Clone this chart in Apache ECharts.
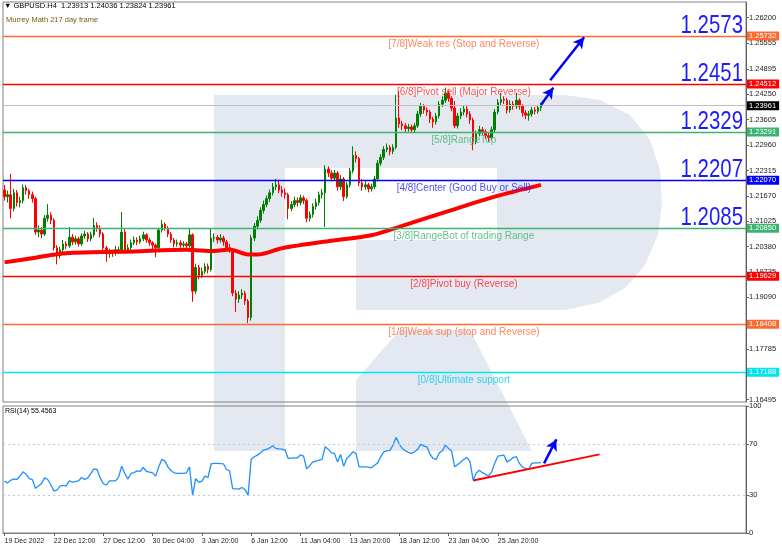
<!DOCTYPE html>
<html><head><meta charset="utf-8">
<script src="https://cdn.jsdelivr.net/npm/echarts@6/dist/echarts.min.js"></script>
<style>html,body{margin:0;padding:0;background:#fff}#c{width:782px;height:549px}</style>
</head><body><div id="c"></div>
<script>
// ---------- data ----------
const opens = [
1.2182,1.2165,1.2170,1.2135,1.2175,1.2150,1.2155,1.2188,1.2180,1.2170,
1.2160,1.2075,1.2080,1.2070,1.2110,1.2118,1.2105,1.2035,1.2015,1.2030,
1.2045,1.2040,1.2062,1.2050,1.2058,1.2045,1.2065,1.2070,1.2058,1.2068,
1.2092,1.2085,1.2070,1.2035,1.2020,1.2025,1.2022,1.2030,1.2030,1.2075,
1.2030,1.2035,1.2048,1.2055,1.2050,1.2058,1.2068,1.2055,1.2048,1.2042,
1.2035,1.2080,1.2095,1.2085,1.2070,1.2055,1.2045,1.2048,1.2042,1.2045,
1.2040,1.2068,1.1925,1.1985,1.1965,1.1975,1.1988,1.1980,1.2060,1.2062,
1.2055,1.2060,1.2050,1.2035,1.2030,1.1920,1.1905,1.1915,1.1920,1.1900,
1.1858,1.2060,1.2090,1.2105,1.2130,1.2145,1.2160,1.2175,1.2190,1.2195,
1.2182,1.2175,1.2170,1.2135,1.2145,1.2155,1.2150,1.2162,1.2155,1.2110,
1.2120,1.2140,1.2150,1.2170,1.2175,1.2235,1.2225,1.2212,1.2225,1.2190,
1.2210,1.2165,1.2195,1.2230,1.2270,1.2262,1.2200,1.2190,1.2195,1.2185,
1.2190,1.2210,1.2250,1.2265,1.2285,1.2290,1.2280,1.2290,1.2365,1.2350,
1.2345,1.2338,1.2342,1.2335,1.2345,1.2375,1.2395,1.2385,1.2380,1.2362,
1.2355,1.2370,1.2400,1.2410,1.2428,1.2415,1.2390,1.2345,1.2370,1.2380,
1.2388,1.2375,1.2360,1.2305,1.2325,1.2335,1.2330,1.2320,1.2315,1.2335,
1.2380,1.2405,1.2412,1.2410,1.2385,1.2400,1.2395,1.2410,1.2395,1.2378,
1.2372,1.2375,1.2385,1.2382,1.23913];
const closes = [
1.2165,1.2170,1.2135,1.2175,1.2150,1.2155,1.2188,1.2180,1.2170,1.2160,
1.2075,1.2080,1.2070,1.2110,1.2118,1.2105,1.2035,1.2015,1.2030,1.2045,
1.2040,1.2062,1.2050,1.2058,1.2045,1.2065,1.2070,1.2058,1.2068,1.2092,
1.2085,1.2070,1.2035,1.2020,1.2025,1.2022,1.2030,1.2030,1.2075,1.2030,
1.2035,1.2048,1.2055,1.2050,1.2058,1.2068,1.2055,1.2048,1.2042,1.2035,
1.2080,1.2095,1.2085,1.2070,1.2055,1.2045,1.2048,1.2042,1.2045,1.2040,
1.2068,1.1925,1.1985,1.1965,1.1975,1.1988,1.1980,1.2060,1.2062,1.2055,
1.2060,1.2050,1.2035,1.2030,1.1920,1.1905,1.1915,1.1920,1.1900,1.1858,
1.2060,1.2090,1.2105,1.2130,1.2145,1.2160,1.2175,1.2190,1.2195,1.2182,
1.2175,1.2170,1.2135,1.2145,1.2155,1.2150,1.2162,1.2155,1.2110,1.2120,
1.2140,1.2150,1.2170,1.2175,1.2235,1.2225,1.2212,1.2225,1.2190,1.2210,
1.2165,1.2195,1.2230,1.2270,1.2262,1.2200,1.2190,1.2195,1.2185,1.2190,
1.2210,1.2250,1.2265,1.2285,1.2290,1.2280,1.2290,1.2365,1.2350,1.2345,
1.2338,1.2342,1.2335,1.2345,1.2375,1.2395,1.2385,1.2380,1.2362,1.2355,
1.2370,1.2400,1.2410,1.2428,1.2415,1.2390,1.2345,1.2370,1.2380,1.2388,
1.2375,1.2360,1.2305,1.2325,1.2335,1.2330,1.2320,1.2315,1.2335,1.2380,
1.2405,1.2412,1.2410,1.2385,1.2400,1.2395,1.2410,1.2395,1.2378,1.2372,
1.2375,1.2385,1.2382,1.2391,1.23961];
const highs = [
1.2195,1.2180,1.2223,1.2185,1.2182,1.2165,1.2196,1.2195,1.2185,1.2178,
1.2165,1.2092,1.2088,1.2118,1.2146,1.2125,1.2110,1.2042,1.2038,1.2055,
1.2052,1.2088,1.2070,1.2066,1.2063,1.2072,1.2078,1.2075,1.2076,1.2111,
1.2100,1.2092,1.2075,1.2040,1.2033,1.2030,1.2040,1.2038,1.2126,1.2083,
1.2044,1.2056,1.2064,1.2062,1.2066,1.2076,1.2072,1.2060,1.2052,1.2046,
1.2086,1.2106,1.2100,1.2090,1.2075,1.2060,1.2056,1.2054,1.2052,1.2050,
1.2085,1.2072,1.1995,1.1992,1.1985,1.1996,1.1995,1.2085,1.2072,1.2068,
1.2070,1.2066,1.2055,1.2045,1.2034,1.1928,1.1925,1.1930,1.1926,1.1905,
1.2068,1.2098,1.2115,1.2138,1.2155,1.2168,1.2183,1.2200,1.2210,1.2205,
1.2192,1.2186,1.2175,1.2153,1.2165,1.2163,1.2170,1.2168,1.2160,1.2128,
1.2148,1.2160,1.2178,1.2185,1.2245,1.2242,1.2232,1.2233,1.2230,1.2220,
1.2215,1.2203,1.2238,1.2293,1.2280,1.2266,1.2210,1.2204,1.2200,1.2198,
1.2218,1.2258,1.2273,1.2293,1.2300,1.2296,1.2298,1.2424,1.2434,1.2358,
1.2352,1.2350,1.2348,1.2353,1.2383,1.2403,1.2400,1.2392,1.2386,1.2368,
1.2378,1.2408,1.2420,1.2442,1.2435,1.2420,1.2408,1.2378,1.2390,1.2396,
1.2395,1.2382,1.2366,1.2333,1.2345,1.2342,1.2336,1.2328,1.2343,1.2388,
1.2413,1.2429,1.2420,1.2416,1.2410,1.2408,1.2429,1.2415,1.2400,1.2385,
1.2383,1.2393,1.2392,1.2398,1.24036];
const lows = [
1.2155,1.2150,1.2110,1.2128,1.2140,1.2138,1.2148,1.2170,1.2160,1.2150,
1.2068,1.2062,1.2060,1.2065,1.2102,1.2095,1.2028,1.1993,1.2008,1.2022,
1.2032,1.2035,1.2042,1.2043,1.2038,1.2040,1.2058,1.2050,1.2052,1.2062,
1.2076,1.2062,1.2028,1.2000,1.2010,1.2012,1.2015,1.2020,1.2025,1.2022,
1.2024,1.2030,1.2042,1.2042,1.2045,1.2052,1.2048,1.2040,1.2030,1.2011,
1.2030,1.2074,1.2078,1.2062,1.2048,1.2036,1.2038,1.2035,1.2036,1.2032,
1.2035,1.1898,1.1918,1.1955,1.1958,1.1968,1.1970,1.1975,1.2050,1.2046,
1.2048,1.2040,1.2028,1.2022,1.1912,1.1872,1.1895,1.1905,1.1890,1.1844,
1.1850,1.2052,1.2082,1.2098,1.2122,1.2138,1.2152,1.2168,1.2182,1.2174,
1.2165,1.2160,1.2108,1.2128,1.2138,1.2140,1.2143,1.2146,1.2100,1.2102,
1.2112,1.2132,1.2143,1.2160,1.2088,1.2215,1.2204,1.2205,1.2180,1.2182,
1.2154,1.2160,1.2188,1.2224,1.2252,1.2192,1.2180,1.2182,1.2176,1.2178,
1.2184,1.2204,1.2243,1.2258,1.2278,1.2270,1.2273,1.2285,1.2340,1.2334,
1.2328,1.2330,1.2326,1.2328,1.2340,1.2368,1.2376,1.2370,1.2352,1.2340,
1.2348,1.2364,1.2393,1.2403,1.2406,1.2382,1.2339,1.2338,1.2362,1.2372,
1.2366,1.2350,1.2283,1.2298,1.2318,1.2322,1.2312,1.2305,1.2310,1.2328,
1.2374,1.2398,1.2400,1.2376,1.2378,1.2386,1.2388,1.2386,1.2368,1.2362,
1.2358,1.2368,1.2374,1.2376,1.23824];
const rsiValues = [
40.8,39.5,41.5,42.6,42.1,45.0,48.2,46.3,42.9,42.1,
35.3,37.0,39.0,43.4,42.1,38.0,33.2,33.7,36.9,37.5,
37.1,41.1,40.0,40.5,41.1,43.7,42.1,43.4,47.0,50.5,
50.0,43.4,39.0,37.6,41.1,41.0,41.1,44.0,52.6,46.9,
42.4,46.9,47.5,48.9,48.6,51.6,48.6,48.0,47.4,44.8,
52.0,57.9,56.8,52.1,49.0,47.4,46.9,46.9,47.0,47.4,
52.1,29.8,42.9,39.8,40.8,44.8,43.7,54.5,54.8,54.8,
54.7,54.5,50.0,48.9,35.0,34.8,34.5,35.8,34.2,29.8,
58.0,60.0,61.3,63.0,65.3,65.8,67.0,68.7,66.6,66.3,
66.1,65.3,58.7,59.0,59.2,59.2,61.6,60.5,50.5,53.0,
56.0,56.5,57.4,57.9,67.9,66.0,63.1,62.7,56.0,61.9,
52.6,58.7,61.0,63.9,62.7,52.1,52.1,52.1,51.8,51.3,
53.4,55.0,60.0,63.9,64.7,65.0,69.2,75.3,70.0,66.6,
64.7,63.5,62.7,64.0,66.0,69.8,68.5,67.9,62.0,58.7,
57.9,63.1,64.7,69.2,66.6,64.7,52.1,54.0,56.0,58.0,
59.5,56.0,41.6,47.0,49.5,47.5,46.3,44.8,48.2,55.0,
60.5,61.0,61.3,56.0,57.4,59.5,60.0,54.8,52.0,50.8,
50.0,54.8,55.2,55.2,55.4563];
// Murrey MA reading points [bar index, price]
const maPoints = [[0,1.1998],[10,1.2010],[20,1.2021],[42,1.2026],[59,1.2030],[68,1.2027],[73,1.2031],
  [79,1.2018],[82,1.2018],[90,1.2034],[106,1.2053],[119,1.2067],[129,1.2091],[145,1.2131],[159,1.2165],[174,1.2195]];
const slotCount = 241;
const tickIndex = [0,16,32,48,64,80,96,112,128,144,160];
const tickText = ['19 Dec 2022','22 Dec 12:00','27 Dec 12:00','30 Dec 04:00','3 Jan 20:00','6 Jan 12:00',
  '11 Jan 04:00','13 Jan 20:00','18 Jan 12:00','23 Jan 04:00','25 Jan 20:00'];
const priceTicks = [1.26200,1.25555,1.24895,1.24250,1.23605,1.22960,1.22315,1.21670,1.21025,1.20380,
  1.19735,1.19090,1.18445,1.17785,1.17140,1.16495];
const rsiTicks = [0,30,70,100];
const levels = [1.25732,1.24512,1.23291,1.22070,1.20850,1.19629,1.18408,1.17188];
const levelNames = ['[7/8]Weak res (Stop and Reverse)','[6/8]Pivot sell (Major Reverse)','[5/8]RangeTop',
  '[4/8]Center (Good Buy or Sell)','[3/8]RangeBot of trading Range','[2/8]Pivot buy (Reverse)',
  '[1/8]Weak sup (stop and Reverse)','[0/8]Ultimate support'];
const bigLevelText = ['1.2573','1.2451','1.2329','1.2207','1.2085'];
const lastPrice = 1.23961;
const rsiLast = 55.4563;
const priceArrows = [[[174,1.2398],[178,1.2442]],[[177,1.2461],[188,1.2570]]];
const rsiTrend = [[152,41.4],[193,61.9]];
const rsiArrow = [[175,54.8],[179,73.7]];

// ---------- styles ----------
const levelColors = ['#ff6a33','#ff0000','#3cb371','#0000ff','#3cb371','#ff0000','#ff6a33','#00e5ee'];
const levelTextColors = ['#ff6a33','#ff2020','#3cb371','#2020ff','#3cb371','#ff2020','#ff6a33','#00c8e8'];
const FONT = "'Liberation Sans', Arial, sans-serif";
const WM = '#e4e9f1';

const categories = Array.from({length: slotCount}, (_, i) => String(i));
const candleData = opens.map((o, i) => [o, closes[i], lows[i], highs[i]]);
const showTick = (idx) => tickIndex.indexOf(idx) >= 0;

const chart = echarts.init(document.getElementById('c'), null, {renderer: 'canvas'});

const tagLines = levels.map((lv, k) => ({
  yAxis: lv,
  lineStyle: {color: levelColors[k], width: 1.4, type: 'solid'},
  label: {show: true, position: 'end', distance: 1, formatter: lv.toFixed(5), backgroundColor: levelColors[k],
    color: '#fff', fontSize: 7.5, fontFamily: FONT, padding: [1, 3, 0, 2]}
}));
tagLines.unshift({
  yAxis: lastPrice,
  lineStyle: {color: '#c0c0c0', width: 1, type: 'solid'},
  label: {show: true, position: 'end', distance: 1, formatter: lastPrice.toFixed(5), backgroundColor: '#000',
    color: '#fff', fontSize: 7.5, fontFamily: FONT, padding: [1, 3, 0, 2]}
});

const arrowLines = priceArrows.map(a => [
  {coord: a[0], symbol: 'none'},
  {coord: a[1], symbol: 'arrow'}
]);

const baseGraphic = [
  {id: 'wm1', type: 'rect', z: -10, silent: true, shape: {x: 214, y: 95, width: 71, height: 356}, style: {fill: WM}},
  {id: 'wm2', type: 'polygon', z: -10, silent: true, shape: {points: [[285,95],[565,95],[600,100],[630,115],[650,140],[660,170],[662,203],
    [658,235],[645,265],[625,288],[598,303],[565,310],[356,310],[356,240],[497,240],[497,168],[285,168]]}, style: {fill: WM}},
  {id: 'wm3', type: 'polygon', z: -10, silent: true, shape: {points: [[400,330],[470,330],[532,451],[356,451],[356,380]]}, style: {fill: WM}},
  {id: 'h1', type: 'text', left: 4, top: 2, z: 10, style: {text: '\u25BC GBPUSD.H4  1.23913 1.24036 1.23824 1.23961', fontSize: 7.5, fill: '#000', fontFamily: FONT}},
  {id: 'h2', type: 'text', left: 6, top: 16, z: 10, style: {text: 'Murrey Math 217 day frame', fontSize: 7.5, fill: '#7a5a10', fontFamily: FONT}},
  {id: 'h3', type: 'text', left: 5, top: 408, z: 10, style: {text: 'RSI(14) ' + rsiLast.toFixed(4), fontSize: 7, fill: '#000', fontFamily: FONT}}
];

const option = {
  animation: false,
  backgroundColor: '#fff',
  textStyle: {fontFamily: FONT},
  grid: [
    {left: 3, right: 36, top: 2, height: 400, show: true, borderColor: '#808080', borderWidth: 1},
    {left: 3, right: 36, top: 406, height: 127, show: true, borderColor: '#808080', borderWidth: 1}
  ],
  xAxis: [
    {type: 'category', gridIndex: 0, data: categories, boundaryGap: true,
     axisLine: {show: false}, axisTick: {show: false}, axisLabel: {show: false}, splitLine: {show: false}},
    {type: 'category', gridIndex: 1, data: categories, boundaryGap: true,
     axisLine: {show: true, lineStyle: {color: '#808080'}},
     axisTick: {show: true, interval: (i) => showTick(i), alignWithLabel: true, length: 3, lineStyle: {color: '#606060'}},
     axisLabel: {show: true, interval: (i) => showTick(i), formatter: (v, i) => tickText[tickIndex.indexOf(Number(v))] || '',
       align: 'left', fontSize: 7, color: '#222', margin: 5, fontFamily: FONT},
     splitLine: {show: false}}
  ],
  yAxis: [
    {type: 'value', gridIndex: 0, position: 'right', min: 1.164332, max: 1.265958, scale: true,
     splitLine: {show: false},
     axisLine: {show: true, lineStyle: {color: '#606060'}},
     axisTick: {show: true, customValues: priceTicks, length: 3, lineStyle: {color: '#606060'}},
     axisLabel: {show: true, customValues: priceTicks, formatter: (v) => v.toFixed(5), fontSize: 7.5, color: '#222', margin: 3, fontFamily: FONT}},
    {type: 'value', gridIndex: 1, position: 'right', min: 0, max: 100,
     splitLine: {show: false},
     axisLine: {show: true, lineStyle: {color: '#606060'}},
     axisTick: {show: true, customValues: rsiTicks, length: 3, lineStyle: {color: '#606060'}},
     axisLabel: {show: true, customValues: rsiTicks, fontSize: 7.5, color: '#222', margin: 3, fontFamily: FONT}}
  ],
  graphic: baseGraphic,
  series: [
    {name: 'levels', type: 'line', xAxisIndex: 0, yAxisIndex: 0, data: [], z: 1,
     markLine: {silent: true, symbol: 'none', animation: false, precision: 6, data: tagLines}},
    {name: 'price', type: 'candlestick', xAxisIndex: 0, yAxisIndex: 0, data: candleData, barWidth: 2, z: 2,
     itemStyle: {color: '#008000', color0: '#ff0000', borderColor: '#008000', borderColor0: '#ff0000', borderWidth: 1}},
    {name: 'ma', type: 'line', xAxisIndex: 0, yAxisIndex: 0, data: maPoints, showSymbol: false, smooth: 0.3,
     lineStyle: {color: '#ff0000', width: 4}, z: 3},
    {name: 'arrows', type: 'line', xAxisIndex: 0, yAxisIndex: 0, data: [], z: 5,
     markLine: {silent: true, animation: false, precision: 6, symbolSize: [9, 11],
       lineStyle: {color: '#0000ff', width: 2.5, type: 'solid'}, label: {show: false}, data: arrowLines}},
    {name: 'levelText', type: 'scatter', xAxisIndex: 0, yAxisIndex: 0, symbolSize: 0, z: 6,
     data: levels.map((lv, k) => ({value: [149, lv],
       label: {show: true, position: 'bottom', distance: 3, formatter: levelNames[k], color: levelTextColors[k],
         fontSize: 10, fontFamily: FONT}}))},
    {name: 'rsi', type: 'line', xAxisIndex: 1, yAxisIndex: 1, data: rsiValues, showSymbol: false,
     lineStyle: {color: '#1e90ff', width: 1.3}, z: 3,
     markLine: {silent: true, symbol: 'none', animation: false, precision: 6, label: {show: false},
       lineStyle: {color: '#c8c8c8', type: [2, 3], width: 1},
       data: [{yAxis: 30}, {yAxis: 70}]}},
    {name: 'rsiMarks', type: 'line', xAxisIndex: 1, yAxisIndex: 1, data: [], z: 5,
     markLine: {silent: true, animation: false, precision: 6, label: {show: false},
       data: [
         [{coord: rsiTrend[0], symbol: 'none', lineStyle: {color: '#ff0000', width: 2, type: 'solid'}}, {coord: rsiTrend[1], symbol: 'none'}],
         [{coord: rsiArrow[0], symbol: 'none', lineStyle: {color: '#0000ff', width: 2.5, type: 'solid'}}, {coord: rsiArrow[1], symbol: 'arrow', symbolSize: [9, 11]}]
       ]}}
  ]
};
chart.setOption(option);

// big level numbers: placed through the price axis, drawn in a condensed style
const bigGraphic = bigLevelText.map((t, k) => ({
  id: 'big' + k, type: 'text', z: 20, silent: true,
  x: 743, y: chart.convertToPixel({yAxisIndex: 0}, levels[k]) + 3, scaleX: 0.77,
  style: {text: t, fontSize: 26.5, fontFamily: FONT, fill: '#1c1cff', align: 'right', verticalAlign: 'bottom'}
}));
option.graphic = baseGraphic.concat(bigGraphic);
chart.setOption(option, true);
</script>
</body></html>
